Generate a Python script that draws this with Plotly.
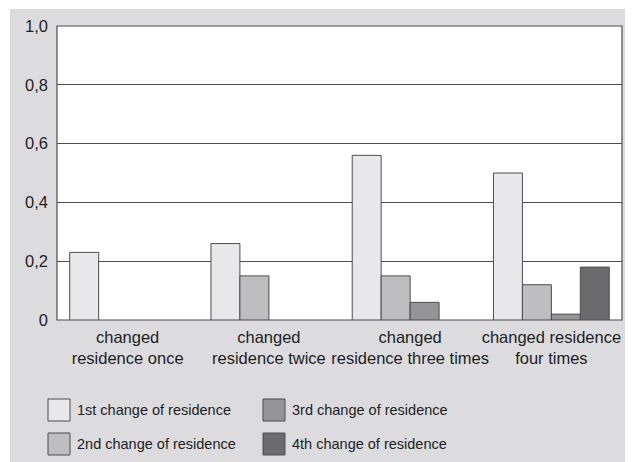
import plotly.graph_objects as go

# data
categories = ["changed<br>residence once", "changed<br>residence twice",
              "changed<br>residence three times", "changed residence<br>four times"]
first_change = [0.23, 0.26, 0.56, 0.50]
second_change = [None, 0.15, 0.15, 0.12]
third_change = [None, None, 0.06, 0.02]
fourth_change = [None, None, None, 0.18]
series_names = ["1st change of residence", "2nd change of residence",
                "3rd change of residence", "4th change of residence"]
y_ticks = [0, 0.2, 0.4, 0.6, 0.8, 1.0]
y_tick_labels = ["0", "0,2", "0,4", "0,6", "0,8", "1,0"]

colors = ["#e8e8ea", "#bebec1", "#959598", "#6b6b6e"]
outline = "#4d4d4f"
text_color = "#1e1e1e"

# the page body adds an 8px margin, so the figure is 8px smaller than the window
OFF = 8
W, H = 633 - OFF, 462 - OFF
L, R, T, B = 49, 11, 18, 142
pw, ph = W - L - R, H - T - B


def px_x(px):
    # reference (window) pixel -> paper x
    return (px - OFF - L) / pw


def px_y(py):
    return (H - B - (py - OFF)) / ph


fig = go.Figure()
for name, vals, col in zip(series_names,
                           [first_change, second_change, third_change, fourth_change],
                           colors):
    fig.add_trace(go.Bar(
        x=categories, y=vals, name=name,
        marker=dict(color=col, line=dict(color=outline, width=1)),
        showlegend=False,
    ))

# grey panel behind everything, white plot area on top of it
fig.add_shape(type="rect", xref="paper", yref="paper",
              x0=px_x(10), x1=px_x(625), y0=px_y(470), y1=px_y(9),
              fillcolor="#dcdcde", line=dict(width=0), layer="below")
fig.add_shape(type="rect", xref="x domain", yref="y domain",
              x0=0, x1=1, y0=0, y1=1,
              fillcolor="white", line=dict(color=outline, width=1.2), layer="below")

# legend drawn by hand: two columns, two rows
legend_pos = [(48, 410), (48, 444), (263, 410), (263, 444)]
for name, col, (lx, ly) in zip(series_names, colors, legend_pos):
    fig.add_shape(type="rect", xref="paper", yref="paper",
                  x0=px_x(lx), x1=px_x(lx + 22), y0=px_y(ly + 11), y1=px_y(ly - 11),
                  fillcolor=col, line=dict(color=outline, width=1))
    fig.add_annotation(xref="paper", yref="paper", x=px_x(lx + 27), y=px_y(ly),
                       text=name, showarrow=False, xanchor="left", yanchor="middle",
                       font=dict(size=14.5, color=text_color))

fig.update_layout(
    width=W, height=H,
    margin=dict(l=L, r=R, t=T, b=B),
    paper_bgcolor="white",
    plot_bgcolor="white",
    barmode="group",
    bargap=0.18,
    bargroupgap=0,
    font=dict(family="Liberation Sans, Arial, sans-serif", size=16, color=text_color),
    showlegend=False,
    xaxis=dict(showgrid=False, ticks="", tickfont=dict(size=16.5), tickangle=0,
               ticklabelstandoff=5, showline=False, automargin=False, fixedrange=True),
    yaxis=dict(range=[0, 1.0], tickvals=y_ticks, ticktext=y_tick_labels,
               showgrid=True, gridcolor=outline, gridwidth=1,
               zeroline=False, ticks="", ticklen=0, ticklabelstandoff=8,
               automargin=False, fixedrange=True, tickfont=dict(size=16.5)),
)

fig.write_html("out.html")
